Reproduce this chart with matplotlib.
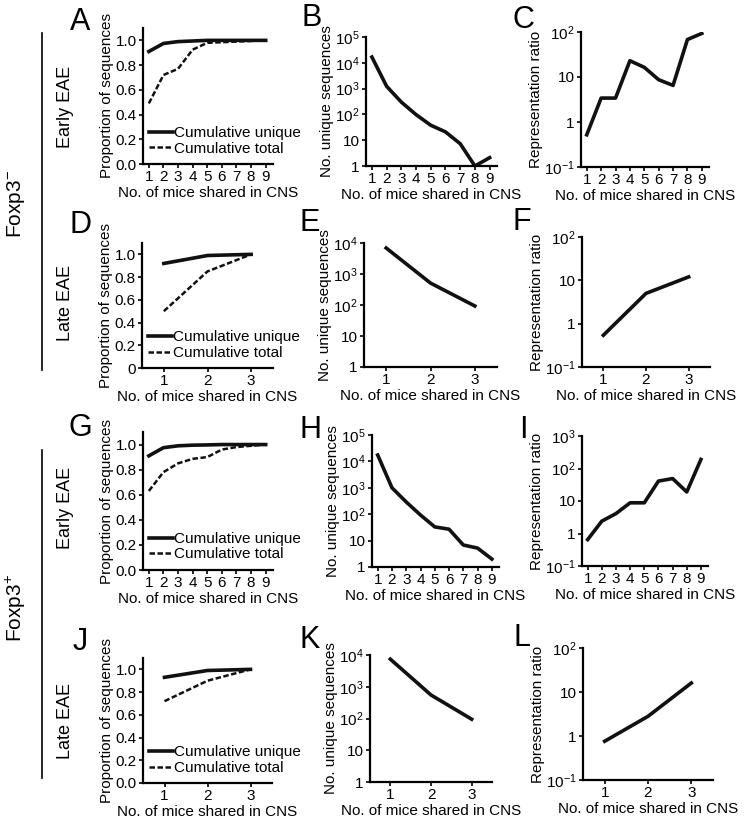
import numpy as np
import matplotlib.pyplot as plt

plt.rcParams['font.family'] = 'Liberation Sans'
plt.rcParams['mathtext.fontset'] = 'custom'
plt.rcParams['mathtext.rm'] = 'Liberation Sans'
plt.rcParams['mathtext.it'] = 'Liberation Sans:italic'
plt.rcParams['mathtext.bf'] = 'Liberation Sans:bold'

# data
mice9 = [1, 2, 3, 4, 5, 6, 7, 8, 9]
mice3 = [1, 2, 3]

a_unique = [0.91, 0.975, 0.99, 0.995, 1.0, 1.0, 1.0, 1.0, 1.0]
a_total = [0.49, 0.72, 0.77, 0.925, 0.98, 0.985, 0.99, 0.995, 1.0]
b_seqs = [16700, 1230, 300, 98, 38, 21, 7.3, 1, 2.1]
c_ratio = [0.52, 3.4, 3.4, 23, 16.4, 8.7, 6.5, 68, 93]

d_unique = [0.92, 0.99, 1.0]
d_total = [0.50, 0.85, 1.0]
e_seqs = [6900, 510, 93]
f_ratio = [0.54, 5.0, 12]

g_unique = [0.91, 0.975, 0.99, 0.995, 0.997, 1.0, 1.0, 1.0, 1.0]
g_total = [0.63, 0.78, 0.85, 0.886, 0.90, 0.96, 0.98, 0.99, 1.0]
h_seqs = [17400, 1000, 290, 93, 33, 27, 6.8, 5.2, 2]
i_ratio = [0.65, 2.4, 4.1, 8.8, 8.8, 41, 49, 19, 190]

j_unique = [0.93, 0.99, 1.0]
j_total = [0.72, 0.90, 1.0]
k_seqs = [7400, 550, 95]
l_ratio = [0.76, 2.8, 16]

prop_ticks = [0.0, 0.2, 0.4, 0.6, 0.8, 1.0]
xlab = 'No. of mice shared in CNS'

W, H = 754, 825
fig = plt.figure(figsize=(W / 100, H / 100), dpi=100)


def box(l, r, t, b):
    return [l / W, 1 - b / H, (r - l) / W, (b - t) / H]


def logfmt(v):
    if v == 1:
        return '1'
    if v == 10:
        return '10'
    return '10$^{%d}$' % round(np.log10(v))


def style(ax, x):
    for s in ['top', 'right']:
        ax.spines[s].set_visible(False)
    for s in ['left', 'bottom']:
        ax.spines[s].set_linewidth(1.6)
    ax.tick_params(direction='out', length=3, width=1.2, labelsize=11, pad=1.5)
    ax.set_xticks(x)
    ax.set_xlabel(xlab, fontsize=11, labelpad=1.5)
    if len(x) == 9:
        ax.set_xlim(0.6, 9.5)
    else:
        ax.set_xlim(0.5, 3.5)


def prop_panel(rect, x, uniq, tot, zero='0.0'):
    ax = fig.add_axes(box(*rect))
    ax.plot(x, uniq, color='#111111', lw=2.6, label='Cumulative unique')
    ax.plot(x, tot, color='#111111', lw=1.8, ls=(0, (2.2, 1)), label='Cumulative total')
    style(ax, x)
    ax.set_ylim(0, 1.1)
    ax.set_yticks(prop_ticks)
    ax.set_yticklabels([zero, '0.2', '0.4', '0.6', '0.8', '1.0'])
    ax.set_ylabel('Proportion of sequences', fontsize=11, labelpad=1)
    ax.legend(loc='lower left', frameon=False, fontsize=11, handlelength=1.6,
              handletextpad=0.05, labelspacing=0.1, borderaxespad=0.1,
              borderpad=0.1, bbox_to_anchor=(0.02, 0.04))
    return ax


def log_panel(rect, x, y, lo, hi, ylabel):
    ax = fig.add_axes(box(*rect))
    ax.plot(x, y, color='#111111', lw=2.6)
    ax.set_yscale('log')
    style(ax, x)
    ax.set_ylim(lo, hi)
    ticks = [10.0 ** k for k in range(int(np.log10(lo)), int(np.log10(hi)) + 1)]
    ax.set_yticks(ticks)
    ax.set_yticklabels([logfmt(t) for t in ticks])
    ax.minorticks_off()
    ax.set_ylabel(ylabel, fontsize=11, labelpad=1)
    return ax


# row 1
prop_panel((143, 273, 28, 164), mice9, a_unique, a_total)
log_panel((366, 497, 37, 166), mice9, b_seqs, 1, 1e5, 'No. unique sequences')
log_panel((581, 709, 32, 167), mice9, c_ratio, 0.1, 100, 'Representation ratio')
# row 2
prop_panel((142, 273, 243, 368), mice3, d_unique, d_total, zero='0')
log_panel((364, 497, 243, 367), mice3, e_seqs, 1, 1e4, 'No. unique sequences')
log_panel((582, 710, 237, 367), mice3, f_ratio, 0.1, 100, 'Representation ratio')
# row 3
prop_panel((143, 273, 432, 570), mice9, g_unique, g_total)
log_panel((372, 499, 435, 567), mice9, h_seqs, 1, 1e5, 'No. unique sequences')
log_panel((582, 708, 436, 566), mice9, i_ratio, 0.1, 1000, 'Representation ratio')
# row 4
prop_panel((143, 272, 658, 783), mice3, j_unique, j_total)
log_panel((370, 492, 655, 782), mice3, k_seqs, 1, 1e4, 'No. unique sequences')
log_panel((583, 713, 648, 780), mice3, l_ratio, 0.1, 100, 'Representation ratio')

# panel letters
letters = ['A', 'B', 'C', 'D', 'E', 'F', 'G', 'H', 'I', 'J', 'K', 'L']
lx = [80, 312, 523, 80, 310, 522, 80, 310, 523, 80, 310, 522]
ly = [22, 18, 20, 225, 223, 222, 428, 430, 430, 642, 640, 638]
for t, x, y in zip(letters, lx, ly):
    fig.text(x / W, 1 - y / H, t, fontsize=22, ha='center', va='center')

# row labels
for t, y in zip(['Early EAE', 'Late EAE', 'Early EAE', 'Late EAE'], [107, 303, 508, 721]):
    fig.text(65 / W, 1 - y / H, t, fontsize=13, rotation=90, ha='center', va='center')
for t, y in zip(['Foxp3$^{-}$', 'Foxp3$^{+}$'], [204, 608]):
    fig.text(16 / W, 1 - y / H, t, fontsize=15, rotation=90, ha='center', va='center')

# group brackets
for y0, y1 in [(33, 370), (450, 778)]:
    fig.add_artist(plt.Line2D([42 / W, 42 / W], [1 - y0 / H, 1 - y1 / H],
                              color='black', lw=1.2))

fig.savefig('out.png', dpi=100)
